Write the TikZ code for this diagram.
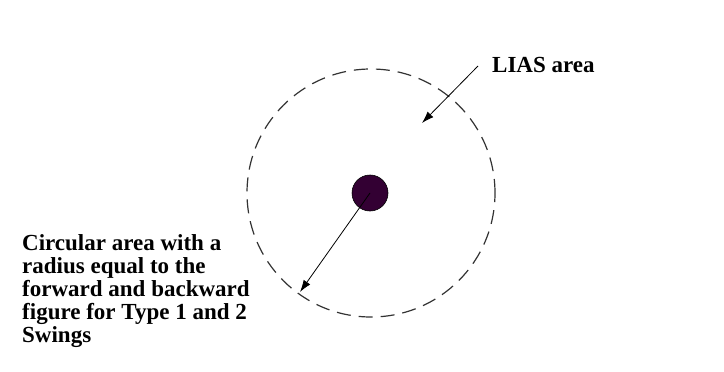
\documentclass[tikz,border=0pt]{standalone}
\usepackage{fontspec}
\setmainfont{Liberation Serif}
\usetikzlibrary{arrows.meta}
\definecolor{dotcol}{HTML}{330033}
\definecolor{linecol}{HTML}{333333}
\tikzset{
  txt/.style={font=\fontsize{23}{23}\selectfont\bfseries, inner sep=0pt, align=left, anchor=north west},
  arr/.style={draw=black, line width=0.8pt, -{Latex[length=12pt,width=8pt]}},
  dashcircle/.style={draw=linecol, line width=1.2pt, dash pattern=on 14pt off 8pt},
}
\begin{document}
\begin{tikzpicture}[x=1pt,y=-1pt]
\useasboundingbox[fill=white] (0,0) rectangle (724,372);
\node[dashcircle, circle, minimum size=248pt, inner sep=0pt] (area) at (371,193) {};
\node[circle, fill=dotcol, draw=black, line width=0.6pt, minimum size=36pt, inner sep=0pt] (dot) at (370,193) {};
\coordinate (rtip) at (300,292);
\coordinate (lstart) at (478,66);
\coordinate (ltip) at (422,123);
\draw[arr] (dot.center) -- (rtip);
\draw[arr] (lstart) -- (ltip);
\node[txt, anchor=base west] (lias) at (492,72) {LIAS area};
\node[txt] (desc) at (22,234) {Circular area with a\\radius equal to the\\forward and backward\\figure for Type 1 and 2\\Swings};
\end{tikzpicture}
\end{document}
